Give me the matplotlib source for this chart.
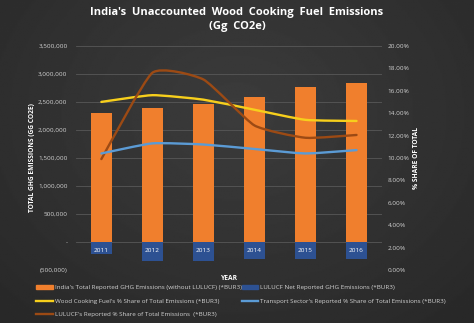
import numpy as np
import matplotlib.pyplot as plt
from matplotlib.path import Path
from matplotlib.patches import PathPatch, Patch
from matplotlib.lines import Line2D
from matplotlib.ticker import FuncFormatter, MultipleLocator

# === Data ===
years = ["2011", "2012", "2013", "2014", "2015", "2016"]
total_ghg = [2300000, 2400000, 2460000, 2590000, 2760000, 2838889]   # Gg CO2e, without LULUCF
lulucf_net = [-210000, -340000, -335000, -295000, -295000, -300000]  # Gg CO2e
wood_share = [15.0, 15.6, 15.2, 14.3, 13.4, 13.3]        # %
transport_share = [10.4, 11.3, 11.2, 10.8, 10.4, 10.7]   # %
lulucf_share = [9.9, 17.6, 17.0, 12.9, 11.8, 12.05]      # %

labels = [
    "India's Total Reported GHG Emissions (without LULUCF) (*BUR3)",
    "LULUCF Net Reported GHG Emissions (*BUR3)",
    "Wood Cooking Fuel's % Share of Total Emissions (*BUR3)",
    "Transport Sector's Reported % Share of Total Emissions (*BUR3)",
    "LULUCF's Reported % Share of Total Emissions  (*BUR3)",
]

ORANGE = "#f07f2d"
DARKBLUE = "#2d5192"
YELLOW = "#f7cf1c"
LIGHTBLUE = "#5b9bd5"
BROWN = "#9c4a14"
TXT = "#d2d2d2"

plt.rcParams["font.family"] = ["Open Sans", "DejaVu Sans"]


def smooth_path(xs, ys, k=12.0):
    # lightly smoothed line (cubic Bezier segments through the points)
    pts = np.column_stack([xs, ys]).astype(float)
    verts = [pts[0]]
    codes = [Path.MOVETO]
    n = len(pts)
    for i in range(n - 1):
        p0 = pts[max(i - 1, 0)]
        p1 = pts[i]
        p2 = pts[i + 1]
        p3 = pts[min(i + 2, n - 1)]
        verts += [p1 + (p2 - p0) / k, p2 - (p3 - p1) / k, p2]
        codes += [Path.CURVE4] * 3
    return Path(verts, codes)


fig = plt.figure(figsize=(4.74, 3.23), dpi=100)

# dark radial background
bg = fig.add_axes([0, 0, 1, 1], zorder=-10)
gy, gx = np.mgrid[0:1:200j, 0:1:300j]
r = np.sqrt(((gx - 0.5) / 0.75) ** 2 + ((gy - 0.35) / 0.9) ** 2)
bg.imshow(0.235 - 0.08 * r, cmap="gray", vmin=0, vmax=1, aspect="auto",
          extent=[0, 1, 0, 1], origin="upper")
bg.axis("off")

ax = fig.add_axes([0.160, 0.164, 0.646, 0.694])
ax.patch.set_alpha(0)
x = np.arange(len(years))

ax.bar(x, total_ghg, width=0.4, color=ORANGE, zorder=2)
ax.bar(x, lulucf_net, width=0.4, color=DARKBLUE, zorder=2)

# year labels sit on the zero line, over the bars
for xi, yr in zip(x, years):
    ax.annotate(yr, (xi, 0), xytext=(0, -4.2), textcoords="offset points",
                ha="center", va="top", fontsize=4.6, color="white", zorder=4)

ax.set_xlim(-0.5, len(years) - 0.5)
ax.set_ylim(-500000, 3500000)
ax.yaxis.set_major_locator(MultipleLocator(500000))


def left_fmt(v, pos):
    if abs(v) < 1:
        return "-"
    if v < 0:
        return "({:,.0f})".format(-v)
    return "{:,.0f}".format(v)


ax.yaxis.set_major_formatter(FuncFormatter(left_fmt))
ax.grid(axis="y", color="#585858", linewidth=0.6)
ax.set_axisbelow(True)
for s in ax.spines.values():
    s.set_visible(False)
ax.set_xticks([])
ax.tick_params(axis="y", length=0, labelsize=4.6, labelcolor=TXT, pad=6)
ax.set_xlabel("YEAR", fontsize=4.8, color="white", fontweight="bold")
ax.xaxis.set_label_coords(0.5, -0.02)
ax.set_ylabel("TOTAL GHG EMISSIONS (GG CO2E)", fontsize=4.8, color="white",
              fontweight="bold")
ax.yaxis.set_label_coords(-0.13, 0.5)

ax2 = ax.twinx()
ax2.set_ylim(0, 20)
ax2.yaxis.set_major_locator(MultipleLocator(2))
ax2.yaxis.set_major_formatter(FuncFormatter(lambda v, p: "{:.2f}%".format(v)))
ax2.tick_params(axis="y", length=0, labelsize=4.6, labelcolor=TXT, pad=4)
for s in ax2.spines.values():
    s.set_visible(False)
ax2.set_ylabel("% SHARE OF TOTAL", fontsize=4.8, color="white", fontweight="bold")
ax2.yaxis.set_label_coords(1.10, 0.5)

for series, col in [(wood_share, YELLOW), (lulucf_share, BROWN),
                    (transport_share, LIGHTBLUE)]:
    ax2.add_patch(PathPatch(smooth_path(x, series), facecolor="none",
                            edgecolor=col, linewidth=1.7, capstyle="round",
                            joinstyle="round", zorder=3))

fig.suptitle("India's  Unaccounted  Wood  Cooking  Fuel  Emissions\n(Gg  CO2e)",
             x=0.5, y=0.978, fontsize=8, color="white", fontweight="bold",
             linespacing=1.4)

handles = [
    Patch(color=ORANGE),
    Line2D([], [], color=YELLOW, lw=1.7),
    Line2D([], [], color=BROWN, lw=1.7),
    Patch(color=DARKBLUE),
    Line2D([], [], color=LIGHTBLUE, lw=1.7),
]
leg_labels = [labels[0], labels[2], labels[4], labels[1], labels[3]]
leg = fig.legend(handles, leg_labels, ncol=2, loc="lower left",
                 bbox_to_anchor=(0.065, 0.002), frameon=False, fontsize=4.5,
                 labelcolor=TXT, handlelength=2.6, handleheight=0.5,
                 columnspacing=0.0, labelspacing=1.3, handletextpad=0.3)

fig.savefig("out.png", dpi=100, facecolor="#2a2a2a")
